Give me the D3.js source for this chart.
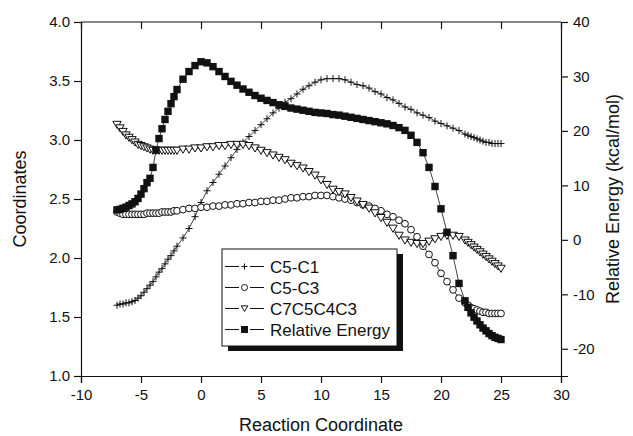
<!DOCTYPE html>
<html><head><meta charset="utf-8">
<script src="https://cdn.jsdelivr.net/npm/d3@7"></script>
<style>body{margin:0;background:#fff}svg{display:block}text{font-family:"Liberation Sans",Arial,sans-serif;fill:#111}</style>
</head><body><svg id="c" width="633" height="436"></svg>
<script>
const reactionCoord = [-7,-6.75,-6.5,-6.25,-6,-5.75,-5.5,-5.25,-5,-4.75,-4.5,-4.25,-4,-3.75,-3.5,-3.25,-3,-2.75,-2.5,-2.25,-2,
  -1.5,-1,-0.5,0,0.5,1,1.5,2,2.5,3,3.5,4,4.5,5,5.5,6,6.5,7,7.5,8,8.5,9,9.5,10,10.5,11,11.5,12,12.5,13,13.5,14,14.5,15,15.5,16,16.5,17,17.5,18,18.5,19,19.5,20,20.5,21,21.5,22,
  22.25,22.5,22.75,23,23.25,23.5,23.75,24,24.25,24.5,24.75,25];
const c5c1 = [1.60,1.61,1.61,1.62,1.62,1.63,1.64,1.66,1.68,1.71,1.74,1.77,1.80,1.84,1.88,1.91,1.95,1.99,2.02,2.06,2.10,
  2.17,2.25,2.35,2.47,2.57,2.64,2.71,2.78,2.85,2.92,2.98,3.03,3.08,3.13,3.18,3.23,3.27,3.32,3.35,3.39,3.43,3.46,3.49,3.51,3.52,3.52,3.52,3.51,3.49,3.47,3.46,3.44,3.41,3.39,3.36,3.34,3.31,3.28,3.26,3.23,3.21,3.19,3.16,3.14,3.12,3.10,3.08,3.05,
  3.04,3.03,3.02,3.01,3.00,2.99,2.98,2.98,2.97,2.97,2.97,2.97];
const c5c3 = [2.39,2.38,2.37,2.37,2.37,2.37,2.37,2.37,2.37,2.37,2.38,2.38,2.38,2.38,2.38,2.39,2.39,2.39,2.39,2.40,2.40,
  2.41,2.42,2.42,2.43,2.43,2.44,2.44,2.45,2.45,2.46,2.46,2.47,2.47,2.48,2.48,2.49,2.49,2.50,2.51,2.51,2.52,2.52,2.53,2.53,2.53,2.52,2.51,2.50,2.49,2.47,2.45,2.44,2.42,2.40,2.37,2.35,2.32,2.29,2.24,2.18,2.10,2.03,1.96,1.87,1.80,1.73,1.66,1.62,
  1.60,1.58,1.57,1.56,1.55,1.54,1.54,1.53,1.53,1.53,1.53,1.53];
const c7c5c4c3 = [3.13,3.10,3.07,3.04,3.02,3.00,2.98,2.96,2.95,2.94,2.93,2.92,2.91,2.91,2.91,2.91,2.91,2.91,2.91,2.91,2.91,
  2.92,2.92,2.93,2.93,2.94,2.94,2.95,2.95,2.96,2.96,2.96,2.95,2.93,2.91,2.89,2.87,2.85,2.83,2.80,2.78,2.76,2.73,2.70,2.66,2.62,2.58,2.56,2.54,2.51,2.48,2.45,2.42,2.38,2.34,2.30,2.25,2.19,2.15,2.13,2.12,2.12,2.14,2.16,2.18,2.19,2.19,2.18,2.15,
  2.13,2.11,2.09,2.07,2.05,2.03,2.01,1.99,1.97,1.95,1.93,1.91];
const relEnergy = [5.5,5.6,5.8,6.0,6.3,6.6,7.0,7.6,8.4,9.4,10.5,11.3,13.3,16.5,18.6,20.4,22.1,23.6,25.0,26.3,27.6,
  29.5,30.9,32.0,32.7,32.5,31.8,30.9,30.0,29.1,28.4,27.7,27.1,26.5,26.0,25.6,25.2,24.8,24.5,24.2,24.0,23.8,23.6,23.4,23.3,23.2,23.0,22.9,22.7,22.5,22.3,22.1,21.9,21.7,21.5,21.3,21.0,20.6,20.1,19.2,17.9,16.0,13.3,9.8,5.7,1.4,-2.9,-8.0,-11.2,
  -12.4,-13.4,-14.2,-14.9,-15.6,-16.2,-16.7,-17.2,-17.6,-17.9,-18.1,-18.3];
const xTicks = [-10,-5,0,5,10,15,20,25,30];
const yLeftTicks = [1.0,1.5,2.0,2.5,3.0,3.5,4.0];
const yRightTicks = [-20,-10,0,10,20,30,40];
const seriesNames = ["C5-C1","C5-C3","C7C5C4C3","Relative Energy"];

const svg = d3.select("#c");
const L=81, R=561, T=22, B=376;
const x = d3.scaleLinear().domain([-10,30]).range([L,R]);
const yL = d3.scaleLinear().domain([1,4]).range([B,T]);
const yR = d3.scaleLinear().domain([-25,40]).range([B,T]);
const hy = f => (d => f(d).replace("\u2212","-"));

function styleAxis(g){
  g.selectAll("path.domain").attr("stroke","#111").attr("stroke-width",1.2);
  g.selectAll(".tick line").attr("stroke","#111").attr("stroke-width",1.2);
  g.selectAll(".tick text").attr("font-size",15).attr("font-family","Liberation Sans, Arial, sans-serif").attr("fill","#111");
}
const minorX = d3.range(-10,30.01,2.5).filter(v=>v%5!==0);
const minorL = d3.range(1,4.001,0.25).filter(v=>Math.abs(v*2-Math.round(v*2))>1e-6);
const minorR = d3.range(-25,40.01,5).filter(v=>v%10!==0);

const gBot = svg.append("g").attr("transform",`translate(0,${B})`);
gBot.call(d3.axisBottom(x).tickValues(minorX).tickSize(4).tickFormat("")).call(styleAxis);
gBot.call(d3.axisBottom(x).tickValues(xTicks).tickSize(7).tickPadding(6).tickFormat(hy(d3.format("d")))).call(styleAxis);
const gTop = svg.append("g").attr("transform",`translate(0,${T})`);
gTop.call(d3.axisBottom(x).tickValues(minorX).tickSize(4).tickFormat("")).call(styleAxis);
gTop.call(d3.axisBottom(x).tickValues(xTicks).tickSize(7).tickFormat("")).call(styleAxis);
gTop.select("path.domain").attr("d",`M${L},0H${R}`);
const gLeft = svg.append("g").attr("transform",`translate(${L},0)`);
gLeft.call(d3.axisLeft(yL).tickValues(minorL).tickSize(4).tickFormat("")).call(styleAxis);
gLeft.call(d3.axisLeft(yL).tickValues(yLeftTicks).tickSize(7).tickPadding(4).tickFormat(d3.format(".1f"))).call(styleAxis);
const gRight = svg.append("g").attr("transform",`translate(${R},0)`);
gRight.call(d3.axisRight(yR).tickValues(minorR).tickSize(4).tickFormat("")).call(styleAxis);
gRight.call(d3.axisRight(yR).tickValues(yRightTicks).tickSize(7).tickPadding(5).tickFormat(hy(d3.format("d")))).call(styleAxis);

svg.append("text").attr("x",(L+R)/2).attr("y",431).attr("text-anchor","middle").attr("font-size",18).text("Reaction Coordinate");
svg.append("text").attr("transform",`translate(26,${(T+B)/2}) rotate(-90)`).attr("text-anchor","middle").attr("font-size",18).text("Coordinates");
svg.append("text").attr("transform",`translate(606,${(T+B)/2}) rotate(-90)`).attr("text-anchor","middle").attr("dy","0.7em").attr("font-size",18).text("Relative Energy (kcal/mol)");

const plot = svg.append("g");
function lineFor(vals, ys){
  return d3.line().x((d,i)=>x(reactionCoord[i])).y(d=>ys(d))(vals);
}
const plusPath = s=>`M${-s},0H${s}M0,${-s}V${s}`;
const triPath = s=>`M${-s},${-s*0.8}H${s}L0,${s*0.9}Z`;

plot.append("path").attr("d",lineFor(c5c1,yL)).attr("fill","none").attr("stroke","#111").attr("stroke-width",0.8);
plot.append("g").selectAll("path").data(c5c1).join("path")
  .attr("transform",(d,i)=>`translate(${x(reactionCoord[i])},${yL(d)})`).attr("d",plusPath(3.5))
  .attr("stroke","#111").attr("stroke-width",1).attr("fill","none");
plot.append("path").attr("d",lineFor(c5c3,yL)).attr("fill","none").attr("stroke","#111").attr("stroke-width",0.8);
plot.append("g").selectAll("circle").data(c5c3).join("circle")
  .attr("cx",(d,i)=>x(reactionCoord[i])).attr("cy",d=>yL(d)).attr("r",3.4)
  .attr("stroke","#111").attr("stroke-width",1).attr("fill","#fff");
plot.append("path").attr("d",lineFor(c7c5c4c3,yL)).attr("fill","none").attr("stroke","#111").attr("stroke-width",0.8);
plot.append("g").selectAll("path").data(c7c5c4c3).join("path")
  .attr("transform",(d,i)=>`translate(${x(reactionCoord[i])},${yL(d)})`).attr("d",triPath(4.2))
  .attr("stroke","#111").attr("stroke-width",1).attr("fill","#fff");
plot.append("path").attr("d",lineFor(relEnergy,yR)).attr("fill","none").attr("stroke","#111").attr("stroke-width",0.8);
plot.append("g").selectAll("rect").data(relEnergy).join("rect")
  .attr("x",(d,i)=>x(reactionCoord[i])-3.7).attr("y",d=>yR(d)-3.7).attr("width",7.4).attr("height",7.4)
  .attr("fill","#111");

const lg = svg.append("g").attr("transform","translate(222,249)");
lg.append("rect").attr("x",6).attr("y",5).attr("width",175).attr("height",97).attr("fill","#111");
lg.append("rect").attr("x",0).attr("y",0).attr("width",175).attr("height",97).attr("fill","#fff").attr("stroke","#111").attr("stroke-width",1);
seriesNames.forEach((n,i)=>{
  const yy = 17.5 + i*21;
  const g = lg.append("g").attr("transform",`translate(0,${yy})`);
  g.append("line").attr("x1",3).attr("x2",17).attr("stroke","#111").attr("stroke-width",1);
  g.append("line").attr("x1",28).attr("x2",42).attr("stroke","#111").attr("stroke-width",1);
  const mx = 22.5;
  if(i===0) g.append("path").attr("transform",`translate(${mx},0)`).attr("d",plusPath(3)).attr("stroke","#111").attr("fill","none");
  if(i===1) g.append("circle").attr("cx",mx).attr("r",3).attr("stroke","#111").attr("fill","#fff");
  if(i===2) g.append("path").attr("transform",`translate(${mx},0)`).attr("d",triPath(3.3)).attr("stroke","#111").attr("fill","#fff");
  if(i===3) g.append("rect").attr("x",mx-3.5).attr("y",-3.5).attr("width",7).attr("height",7).attr("fill","#111");
  g.append("text").attr("x",48).attr("dy","0.36em").attr("font-size",17).text(n);
});
</script></body></html>
